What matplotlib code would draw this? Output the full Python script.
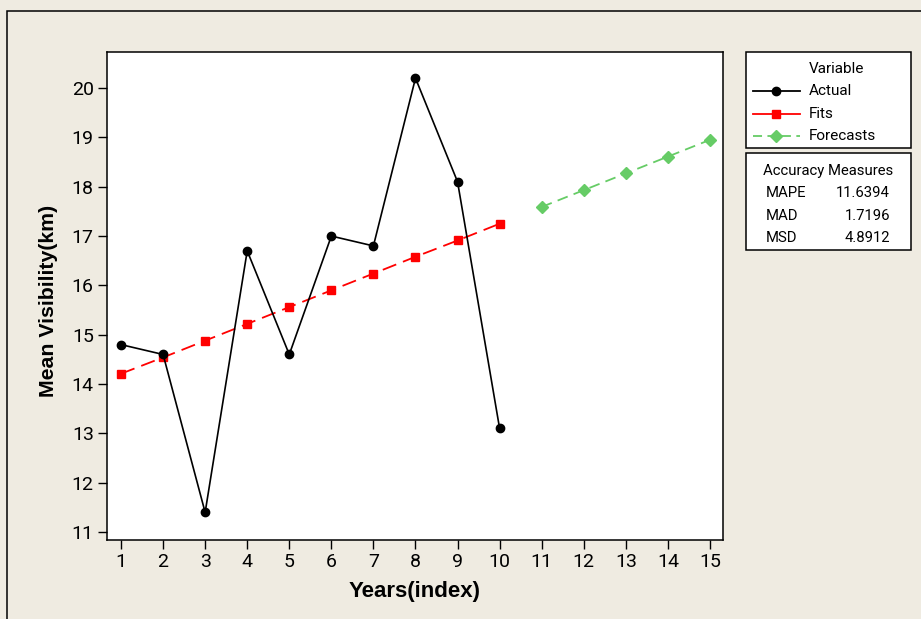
import matplotlib
matplotlib.use("Agg")
import matplotlib.pyplot as plt
from matplotlib.lines import Line2D
from matplotlib.patches import Rectangle

plt.rcParams['font.family'] = ['Roboto', 'DejaVu Sans']

# trend analysis of mean visibility
years = [1, 2, 3, 4, 5, 6, 7, 8, 9, 10]
actual = [14.8, 14.6, 11.4, 16.7, 14.6, 17.0, 16.8, 20.2, 18.1, 13.1]
fits = [14.21, 14.54, 14.88, 15.22, 15.56, 15.90, 16.24, 16.58, 16.91, 17.25]
fc_years = [11, 12, 13, 14, 15]
forecasts = [17.59, 17.93, 18.27, 18.61, 18.95]
measures = ["MAPE", "MAD", "MSD"]
measure_vals = ["11.6394", "1.7196", "4.8912"]

BG = "#efebe1"
GREEN = "#66cc66"
W, H = 921, 619

def fx(x):
    return x / W

def fy(y):
    return 1 - y / H

fig = plt.figure(figsize=(W / 100, H / 100), dpi=100, facecolor=BG)

# outer frame (only top/left edges show)
fig.add_artist(Rectangle((fx(7), -0.1), 1.2, fy(11) + 0.1, transform=fig.transFigure,
                         fill=False, edgecolor="black", lw=1.1))

ax = fig.add_axes([fx(107), fy(540), fx(723) - fx(107), fy(52) - fy(540)])
ax.set_facecolor("white")

ax.plot(years, actual, color="black", lw=1.2, marker="o", ms=6, zorder=3)
ax.plot(years, fits, color="red", lw=1.3, dashes=(8, 4), marker="s", ms=5.5, zorder=2)
ax.plot(fc_years, forecasts, color=GREEN, lw=1.3, dashes=(6, 3.5), marker="D", ms=6, zorder=2)

ax.set_xlim(0.667, 15.31)
ax.set_ylim(10.84, 20.73)
ax.set_xticks(range(1, 16))
ax.set_yticks(range(11, 21))
ax.tick_params(direction="out", length=6.5, width=1.0, labelsize=14, colors="black", pad=3)
for s in ax.spines.values():
    s.set_linewidth(1.1)

bold = ['Liberation Sans', 'DejaVu Sans']
ax.set_xlabel("Years(index)", fontsize=16, fontweight="bold", family=bold, labelpad=7)
ax.set_ylabel("Mean Visibility(km)", fontsize=15.3, fontweight="bold", family=bold)
ax.yaxis.set_label_coords(-0.079, 0.49)

# legend box
fig.add_artist(Rectangle((fx(746), fy(148)), fx(911) - fx(746), fy(52) - fy(148),
                         transform=fig.transFigure, facecolor="white", edgecolor="black", lw=1.1))
fig.text(fx(809), fy(69), "Variable", fontsize=11, va="center", ha="left")
rows = [
    ("Actual", dict(color="black", marker="o", ms=6, ls="-")),
    ("Fits", dict(color="red", marker="s", ms=6, ls="-")),
    ("Forecasts", dict(color=GREEN, marker="D", ms=6, ls="--", dashes=(5, 3))),
]
for i, (lab, st) in enumerate(rows):
    yy = fy(91 + i * 22.5)
    fig.add_artist(Line2D([fx(753), fx(800)], [yy, yy], transform=fig.transFigure, lw=1.3,
                          markevery=[], **st))
    fig.add_artist(Line2D([fx(776)], [yy], transform=fig.transFigure, color=st["color"],
                          marker=st["marker"], ms=st["ms"], ls="none"))
    fig.text(fx(809), yy, lab, fontsize=11, va="center", ha="left")

# accuracy measures box
fig.add_artist(Rectangle((fx(746), fy(250)), fx(911) - fx(746), fy(153) - fy(250),
                         transform=fig.transFigure, facecolor="white", edgecolor="black", lw=1.1))
fig.text(fx(828), fy(171), "Accuracy Measures", fontsize=10.7, va="center", ha="center")
for i, (m, v) in enumerate(zip(measures, measure_vals)):
    yy = fy(193 + i * 22.5)
    fig.text(fx(766), yy, m, fontsize=10.7, va="center", ha="left")
    fig.text(fx(890), yy, v, fontsize=10.7, va="center", ha="right")

fig.savefig("out.png", dpi=100, facecolor=BG)
